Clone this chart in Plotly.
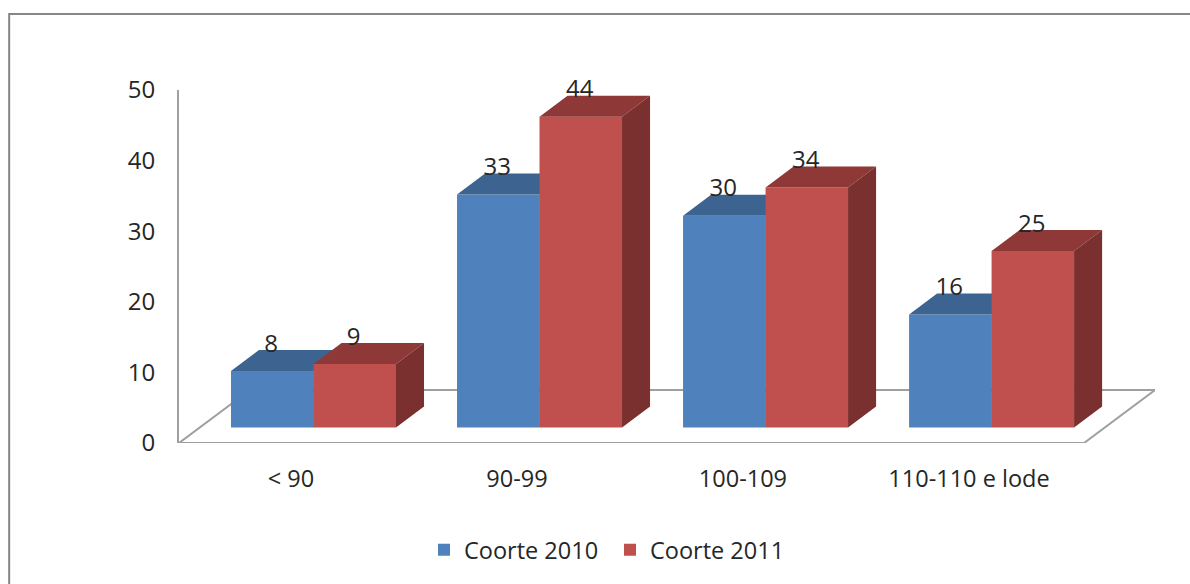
import plotly.graph_objects as go

# data
categories = ['< 90', '90-99', '100-109', '110-110 e lode']
coorte_2010 = [8, 33, 30, 16]
coorte_2011 = [9, 44, 34, 25]
y_ticks = [0, 10, 20, 30, 40, 50]

# fake 3D look, in axis units
bar_w = 0.365
depth_x = 0.124
depth_y = 2.98
floor_front = -2.2
floor_back = 5.3
floor_dx = 0.314
label_up = 3.6

x_range = [-0.595, 3.723]
y_range = [floor_front, 47.8]

FONT = 'Open Sans'
TEXT = '#262626'
AXIS = '#9f9f9f'


def top_faces(vals, offset):
    xs, ys = [], []
    for i, v in enumerate(vals):
        x0 = i + offset
        x1 = x0 + bar_w
        xs += [x0, x0 + depth_x, x1 + depth_x, x1, x0, None]
        ys += [v, v + depth_y, v + depth_y, v, v, None]
    return xs, ys


def side_faces(vals, offset):
    xs, ys = [], []
    for i, v in enumerate(vals):
        x1 = i + offset + bar_w
        xs += [x1, x1 + depth_x, x1 + depth_x, x1, x1, None]
        ys += [0, depth_y, v + depth_y, v, 0, None]
    return xs, ys


def add_series(fig, name, vals, offset, front, top, side, xa, ya):
    fig.add_trace(go.Bar(
        x=list(range(len(vals))), y=vals, name=name, width=bar_w, offset=offset,
        marker=dict(color=front, line=dict(width=0)), xaxis=xa, yaxis=ya, hoverinfo='y',
    ))
    for faces, col in ((top_faces(vals, offset), top), (side_faces(vals, offset), side)):
        fig.add_trace(go.Scatter(
            x=faces[0], y=faces[1], mode='lines', fill='toself', fillcolor=col,
            line=dict(width=0), showlegend=False, hoverinfo='skip', xaxis=xa, yaxis=ya,
        ))
    # value labels
    fig.add_trace(go.Scatter(
        x=[i + offset + bar_w / 2 - 0.005 for i in range(len(vals))],
        y=[v + label_up for v in vals],
        mode='text', text=[str(v) for v in vals], textposition='middle center',
        textfont=dict(family=FONT, size=24, color=TEXT), cliponaxis=False,
        showlegend=False, hoverinfo='skip', xaxis=xa, yaxis=ya,
    ))


fig = go.Figure()
add_series(fig, 'Coorte 2010', coorte_2010, -bar_w, '#4f81bd', '#3d6390', '#335379', 'x', 'y')
add_series(fig, 'Coorte 2011', coorte_2011, 0, '#c0504d', '#8e3937', '#7a302e', 'x2', 'y2')

# floor and outer frame
floor = dict(type='path', xref='x', yref='y', layer='below', line=dict(color=AXIS, width=2),
             path=f'M {x_range[0]} {floor_front} L {x_range[0] + floor_dx} {floor_back} '
                  f'L {x_range[1]} {floor_back} L {x_range[1] - floor_dx} {floor_front} Z')
frame = dict(type='path', xref='paper', yref='paper', layer='below', line=dict(color='#868686', width=2),
             path='M -0.174 -1.5 L -0.174 1.215 L 1.05 1.215')

fig.update_layout(
    width=1190, height=584,
    margin=dict(l=179, r=35, t=90, b=141, autoexpand=False),
    paper_bgcolor='white', plot_bgcolor='white',
    barmode='overlay',
    shapes=[floor, frame],
    font=dict(family=FONT, size=24, color=TEXT),
    xaxis=dict(range=x_range, tickmode='array', tickvals=[i - 0.1 for i in range(len(categories))],
               ticktext=categories, showgrid=False, zeroline=False, ticks='', ticklabelstandoff=19,
               tickfont=dict(family=FONT, size=23.5, color=TEXT)),
    yaxis=dict(range=y_range, tickmode='array', tickvals=[t + floor_front for t in y_ticks],
               ticktext=[str(t) for t in y_ticks], showgrid=False, zeroline=False, showline=True,
               linecolor=AXIS, linewidth=2, ticks='', ticklabelstandoff=17,
               tickfont=dict(family=FONT, size=24, color=TEXT)),
    xaxis2=dict(overlaying='x', range=x_range, visible=False),
    yaxis2=dict(overlaying='y', range=y_range, visible=False),
    legend=dict(orientation='h', x=0.251, y=-0.303, xanchor='left', yanchor='middle',
                entrywidth=141, entrywidthmode='pixels',
                font=dict(family=FONT, size=23.5, color=TEXT), bgcolor='rgba(0,0,0,0)'),
)

# the page's default body margin would push the figure off by 8px
fig.write_html("out.html", post_script="document.body.style.margin='0';",
               config=dict(displayModeBar=False))
